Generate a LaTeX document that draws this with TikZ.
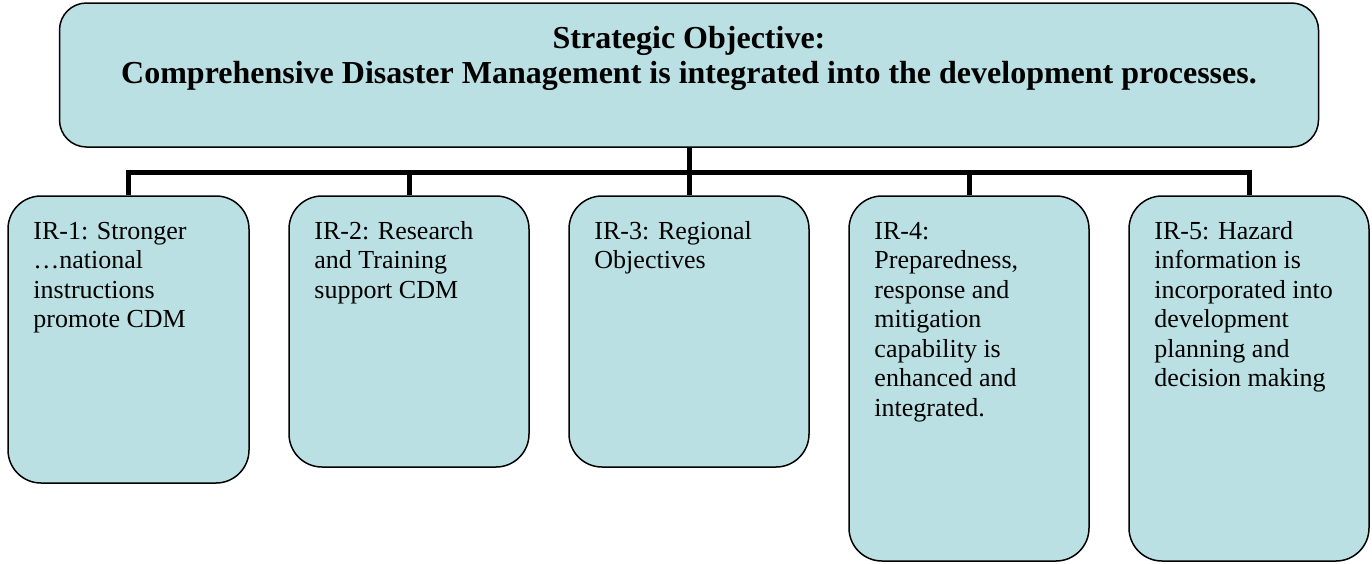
\documentclass[tikz,border=0pt]{standalone}
\usepackage{fontspec}
\setmainfont{Liberation Serif}
\usetikzlibrary{calc}
\definecolor{boxfill}{RGB}{187,224,227}
\begin{document}
\begin{tikzpicture}[x=1pt,y=-1pt,
  box/.style={draw=black, line width=1.5pt, fill=boxfill, rounded corners=33pt, inner sep=0pt},
  topbox/.style={box, rounded corners=27pt},
  lbl/.style={anchor=north west, inner sep=0pt, align=left, font=\fontsize{26}{29.5}\selectfont},
  toplbl/.style={anchor=north, inner sep=0pt, align=center, font=\fontsize{32}{35}\selectfont\bfseries},
  conn/.style={draw=black, line width=5pt}]
\useasboundingbox[fill=white] (0,0) rectangle (1372,563);
% boxes
\node[topbox, minimum width=1259pt, minimum height=144pt] (top) at (689,75) {};
\node[box, minimum width=241pt, minimum height=287pt] (b1) at (128.5,339.5) {};
\node[box, minimum width=240pt, minimum height=271pt] (b2) at (409,331.5) {};
\node[box, minimum width=240pt, minimum height=271pt] (b3) at (689,331.5) {};
\node[box, minimum width=240pt, minimum height=365pt] (b4) at (969,378.5) {};
\node[box, minimum width=240pt, minimum height=365pt] (b5) at (1249,378.5) {};
% connectors
\coordinate (bar) at (689,172);
\draw[conn] (top.south) -- (b3.north);
\draw[conn] (b1.north) |- (bar) -| (b5.north);
\draw[conn] (b2.north) -- (b2.north |- bar);
\draw[conn] (b4.north) -- (b4.north |- bar);
% texts
\node[toplbl] (tt) at (689,23) {\rule{0pt}{25pt}Strategic Objective:\\Comprehensive Disaster Management is integrated into the development processes.};
\node[lbl] (t1) at ($(b1.north west)+(26,24)$) {\rule{0pt}{20pt}IR-1: Stronger\\…national\\instructions\\promote CDM};
\node[lbl] (t2) at ($(b2.north west)+(26,24)$) {\rule{0pt}{20pt}IR-2: Research\\and Training\\support CDM};
\node[lbl] (t3) at ($(b3.north west)+(26,24)$) {\rule{0pt}{20pt}IR-3: Regional\\Objectives};
\node[lbl] (t4) at ($(b4.north west)+(26,24)$) {\rule{0pt}{20pt}IR-4:\\Preparedness,\\response and\\mitigation\\capability is\\enhanced and\\integrated.};
\node[lbl] (t5) at ($(b5.north west)+(26,24)$) {\rule{0pt}{20pt}IR-5: Hazard\\information is\\incorporated into\\development\\planning and\\decision making};
\end{tikzpicture}
\end{document}
